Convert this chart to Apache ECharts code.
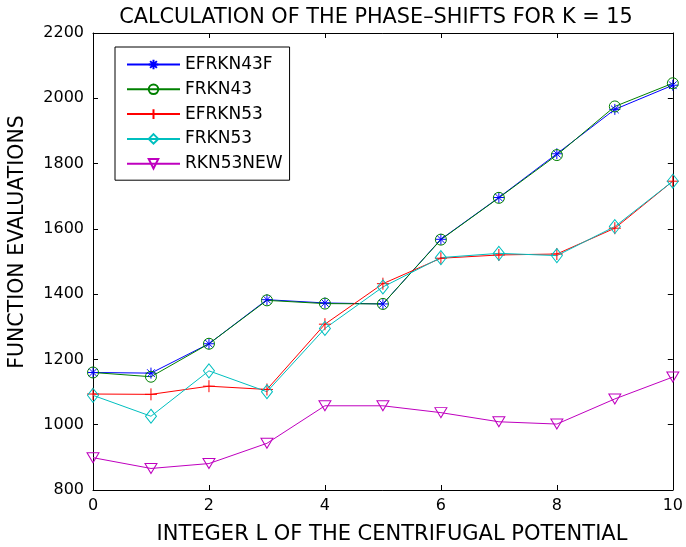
<!DOCTYPE html>
<html><head><meta charset="utf-8">
<script src="https://cdn.jsdelivr.net/npm/echarts@6/dist/echarts.min.js"></script>
<style>html,body{margin:0;padding:0;background:#fff}#c{width:686px;height:547px}</style>
</head><body><div id="c"></div>
<script>
var L = [0,1,2,3,4,5,6,7,8,9,10];
var EFRKN43F = [1160,1158,1248,1383,1373,1370,1568,1696,1830,1966,2040];
var FRKN43   = [1160,1147,1248,1381,1371,1370,1567,1695,1826,1975,2046];
var EFRKN53  = [1094,1093,1118,1108,1308,1432,1510,1520,1523,1602,1746];
var FRKN53   = [1090,1026,1165,1101,1295,1422,1512,1525,1518,1607,1746];
var RKN53NEW = [899,866,881,943,1058,1058,1037,1009,1002,1079,1146];
var xTicks = [0,2,4,6,8,10];
var yTicks = [800,1000,1200,1400,1600,1800,2000,2200];

var FONT = 'DejaVu Sans';
function pairs(ys){ return L.map(function(x,i){ return [x, ys[i]]; }); }
var SYM = {
  star: 'path://M0,-1L0,1M-1,0L1,0M-0.7,-0.7L0.7,0.7M-0.7,0.7L0.7,-0.7',
  plus: 'path://M0,-1L0,1M-1,0L1,0'
};
function mk(name, ys, color, symbol, size, rot){
  return {
    name: name, type: 'line', data: pairs(ys), xAxisIndex: 0, yAxisIndex: 0,
    symbol: symbol, symbolSize: size, symbolRotate: rot || 0,
    showAllSymbol: true, animation: false,
    lineStyle: {color: color, width: 1},
    itemStyle: {color: 'rgba(0,0,0,0)', borderColor: color, borderWidth: 1},
    emphasis: {disabled: true}
  };
}
var chart = echarts.init(document.getElementById('c'), null, {renderer: 'canvas'});
var axisCommon = {
  axisLine: {show: true, onZero: false, lineStyle: {color: '#000', width: 1}},
  axisTick: {show: true, inside: true, length: 5, lineStyle: {color: '#000'}},
  splitLine: {show: false}
};
function fmt(v){ return String(v); }
chart.setOption({
  backgroundColor: '#fff',
  animation: false,
  title: {text: 'CALCULATION OF THE PHASE\u2013SHIFTS FOR K = 15', left: 371, textAlign: 'center', top: 2,
    textStyle: {fontFamily: FONT, fontSize: 20.8, fontWeight: 'normal', color: '#000'}},
  grid: {left: 93, right: 13, top: 33, bottom: 57, containLabel: false},
  legend: {
    orient: 'vertical', left: 115, top: 47, padding: [9, 7, 8, 11],
    borderColor: '#000', borderWidth: 1, backgroundColor: '#fff',
    itemWidth: 53, itemHeight: 12, itemGap: 7.8,
    textStyle: {fontFamily: FONT, fontSize: 17, color: '#000'},
    data: ['EFRKN43F','FRKN43','EFRKN53','FRKN53','RKN53NEW']
  },
  graphic: [
    {type: 'text', x: 392, y: 535, style: {text: 'INTEGER L OF THE CENTRIFUGAL POTENTIAL',
      fontFamily: FONT, fontSize: 21, fill: '#000', align: 'center', verticalAlign: 'middle'}, silent: true},
    {type: 'text', x: 18, y: 242, rotation: Math.PI / 2, style: {text: 'FUNCTION EVALUATIONS',
      fontFamily: FONT, fontSize: 20.5, fill: '#000', align: 'center', verticalAlign: 'middle'}, silent: true}
  ],
  xAxis: [
    Object.assign({type: 'value', min: 0, max: 10, interval: 2, position: 'bottom',
      axisLabel: {fontFamily: FONT, fontSize: 16, color: '#000', margin: 8, formatter: fmt}}, axisCommon),
    Object.assign({type: 'value', min: 0, max: 10, interval: 2, position: 'top',
      axisLabel: {show: false}}, axisCommon)
  ],
  yAxis: [
    Object.assign({type: 'value', min: 800, max: 2200, interval: 200, position: 'left',
      axisLabel: {fontFamily: FONT, fontSize: 16, color: '#000', margin: 9, formatter: fmt}}, axisCommon),
    Object.assign({type: 'value', min: 800, max: 2200, interval: 200, position: 'right',
      axisLabel: {show: false}}, axisCommon)
  ],
  series: [
    mk('EFRKN43F', EFRKN43F, '#0000ff', SYM.star, 11),
    mk('FRKN43', FRKN43, '#008000', 'circle', 11),
    mk('EFRKN53', EFRKN53, '#ff0000', SYM.plus, 12),
    mk('FRKN53', FRKN53, '#00bfbf', 'diamond', [11, 14]),
    mk('RKN53NEW', RKN53NEW, '#bf00bf', 'triangle', [12, 10], 180)
  ]
});
</script></body></html>
